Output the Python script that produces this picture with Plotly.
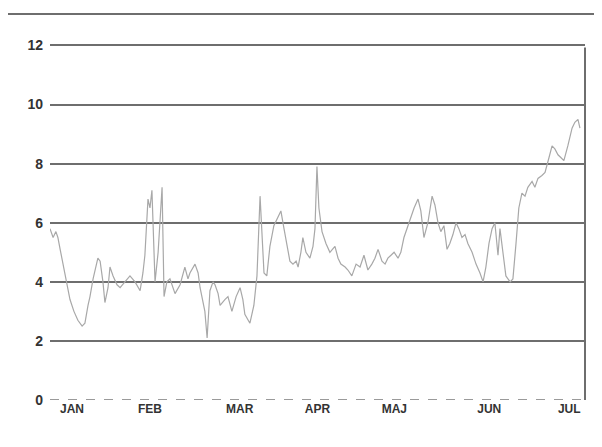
import plotly.graph_objects as go

# --- data (day of year, value) ---
days = [0, 1.1, 2.1, 2.8, 3.6, 4.6, 5.7, 7.1, 8.5, 9.9, 11.4, 12.4, 13.5, 14.2, 15.3, 16.0, 17.0, 17.8, 18.8, 19.5,
        20.6, 21.3, 22.4, 23.8, 24.9, 26.6, 28.4, 30.2, 32.0, 33.0, 33.7, 34.8, 35.5, 36.2, 37.3, 38.4, 39.1, 39.8,
        40.5, 41.5, 42.6, 44.4, 46.2, 47.9, 49.0, 49.7, 51.5, 52.6, 53.3, 54.3, 55.0, 55.8, 56.8, 57.9, 58.6, 59.7,
        60.4, 62.1, 63.2, 64.6, 66.1, 67.5, 68.5, 69.2, 71.0, 72.4, 73.5, 74.6, 75.3, 76.0, 77.0, 78.1, 79.5, 80.9,
        82.0, 83.1, 84.2, 85.2, 86.3, 87.4, 88.1, 89.1, 89.8, 90.9, 92.3, 93.4, 94.1, 94.8, 95.5, 96.6, 98.0, 99.4,
        101.2, 102.3, 103.3, 104.8, 105.8, 107.2, 108.7, 110.1, 111.5, 112.9, 114.3, 115.4, 116.5, 117.9, 119.0,
        120.0, 121.1, 122.2, 123.6, 124.6, 125.7, 126.8, 127.8, 129.3, 130.7, 131.7, 132.8, 134.2, 135.7, 136.7,
        137.8, 138.8, 139.9, 141.0, 142.0, 143.1, 144.2, 145.2, 146.3, 147.4, 148.4, 149.9, 151.3, 152.7, 153.8,
        154.8, 155.9, 157.0, 158.0, 159.1, 159.8, 160.9, 161.9, 163.4, 164.4, 165.5, 166.5, 167.6, 168.7, 169.7,
        171.2, 172.2, 173.3, 174.7, 175.8, 177.2, 178.3, 179.3, 180.4, 181.5, 182.5, 183.9, 185.4, 186.4, 187.5, 188.2]
values = [5.8, 5.5, 5.7, 5.5, 5.1, 4.6, 4.0, 3.4, 3.0, 2.7, 2.5, 2.6, 3.2, 3.5, 4.1, 4.4, 4.8, 4.7, 4.0, 3.3,
          3.8, 4.5, 4.2, 3.9, 3.8, 4.0, 4.2, 4.0, 3.7, 4.3, 4.9, 6.8, 6.5, 7.1, 4.0, 5.0, 6.3, 7.2,
          3.5, 4.0, 4.1, 3.6, 3.9, 4.5, 4.1, 4.3, 4.6, 4.3, 3.8, 3.3, 3.0, 2.1, 3.7, 4.0, 3.9, 3.6,
          3.2, 3.4, 3.5, 3.0, 3.5, 3.8, 3.4, 2.9, 2.6, 3.2, 4.2, 6.9, 5.5, 4.3, 4.2, 5.2, 5.9, 6.2,
          6.4, 5.8, 5.2, 4.7, 4.6, 4.7, 4.5, 5.0, 5.5, 5.0, 4.8, 5.2, 5.8, 7.9, 6.5, 5.7, 5.3, 5.0,
          5.2, 4.8, 4.6, 4.5, 4.4, 4.2, 4.6, 4.5, 4.9, 4.4, 4.6, 4.8, 5.1, 4.7, 4.6,
          4.8, 4.9, 5.0, 4.8, 5.0, 5.5, 5.8, 6.1, 6.5, 6.8, 6.4, 5.5, 6.0, 6.9, 6.6,
          6.0, 5.7, 5.9, 5.1, 5.3, 5.6, 6.0, 5.8, 5.5, 5.6, 5.3, 5.0, 4.6, 4.3, 4.0,
          4.5, 5.3, 5.8, 6.0, 4.9, 5.8, 5.0, 4.2, 4.0, 4.1, 5.3, 6.5, 7.0, 6.9, 7.2,
          7.4, 7.2, 7.5, 7.6, 7.7, 8.2, 8.6, 8.5, 8.3, 8.2, 8.1, 8.6, 9.2, 9.4, 9.5, 9.2]

month_labels = ["JAN", "FEB", "MAR", "APR", "MAJ", "JUN", "JUL"]
month_ticks = [7.8, 35.5, 67.4, 95.0, 122.3, 156.0, 184.4]
y_ticks = [0, 2, 4, 6, 8, 10, 12]

fig = go.Figure()
fig.add_trace(go.Scatter(x=days, y=values, mode="lines",
                         line=dict(color="#a8a8a8", width=1.2), showlegend=False))

grid_c = "#6e6e6e"
fig.update_layout(
    width=602, height=447,
    margin=dict(l=42, r=25, t=36, b=55),
    paper_bgcolor="white", plot_bgcolor="white",
    font=dict(family="Liberation Sans, Arial, sans-serif", color="#333333"),
    xaxis=dict(range=[0, 190], tickvals=month_ticks, ticktext=month_labels,
               showgrid=False, zeroline=False, showline=False, ticks="",
               tickfont=dict(size=12, weight="bold", color="#333333")),
    yaxis=dict(range=[0, 12.05], tickvals=y_ticks, showgrid=True, gridcolor=grid_c, gridwidth=2,
               zeroline=False, showline=False, ticks="", ticklabelstandoff=6,
               tickfont=dict(size=14, weight="bold", color="#333333")),
    shapes=[
        dict(type="line", xref="paper", yref="paper", x0=-0.0785, x1=1.05, y0=1.084, y1=1.084,
             line=dict(color=grid_c, width=2)),
        dict(type="line", xref="paper", yref="paper", x0=1, x1=1, y0=0, y1=0.99,
             line=dict(color=grid_c, width=2)),
        dict(type="line", xref="paper", yref="y", x0=0, x1=1, y0=0, y1=0,
             line=dict(color="#9a9a9a", width=2, dash="dash")),
    ],
)

fig.write_html("out.html")
